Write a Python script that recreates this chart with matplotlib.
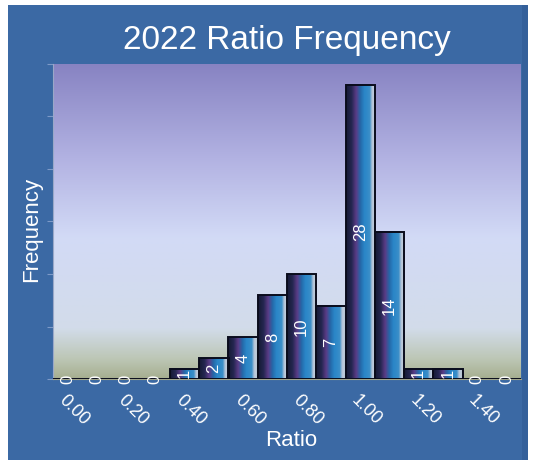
import numpy as np
import matplotlib
matplotlib.use('Agg')
import matplotlib.pyplot as plt
import matplotlib.transforms as mtransforms
from matplotlib.colors import LinearSegmentedColormap
from matplotlib.patches import Rectangle

plt.rcParams['font.family'] = ['Liberation Sans', 'DejaVu Sans']

# ratio bins (0.10 wide) and their counts
bin_starts = [0.00, 0.10, 0.20, 0.30, 0.40, 0.50, 0.60, 0.70,
              0.80, 0.90, 1.00, 1.10, 1.20, 1.30, 1.40, 1.50]
counts = [0, 0, 0, 0, 1, 2, 4, 8, 10, 7, 28, 14, 1, 1, 0, 0]
tick_labels = ['0.00', '0.20', '0.40', '0.60', '0.80', '1.00', '1.20', '1.40']

frame_blue = '#3b69a4'
bar_w = 0.1

fig = plt.figure(figsize=(5.39, 4.63), dpi=100)
fig.patch.set_facecolor('white')
fig.patches.append(Rectangle((8 / 539, 3 / 463), 520 / 539, 455 / 463,
                             transform=fig.transFigure, facecolor=frame_blue,
                             edgecolor='none', zorder=-5))
# slightly darker strip down the right side of the frame
fig.patches.append(Rectangle((522 / 539, 3 / 463), 6 / 539, 455 / 463,
                             transform=fig.transFigure, facecolor='#34609a',
                             edgecolor='none', zorder=-4))

ax = fig.add_axes([53 / 539, 84 / 463, 468 / 539, 315 / 463])
ax.set_zorder(1)

# plot area background: purple at the top, pale blue middle, olive at the base
bg_cmap = LinearSegmentedColormap.from_list('bg', [
    (0.0, '#a6ae90'), (0.06, '#bcc6b4'), (0.16, '#d2dcea'),
    (0.45, '#d2daf6'), (0.70, '#b2b2e2'), (1.0, '#8783c2')])
grad = np.linspace(0, 1, 256).reshape(-1, 1)
ax.imshow(grad, extent=(0, 1, 0, 1), transform=ax.transAxes, cmap=bg_cmap,
          origin='lower', aspect='auto', zorder=0)

# cylinder-like shading across each bar
bar_cmap = LinearSegmentedColormap.from_list('bar', [
    (0.0, '#161a34'), (0.18, '#242650'), (0.34, '#5a3c86'),
    (0.48, '#2468a8'), (0.62, '#2a86c8'), (0.80, '#3a8ec8'),
    (0.88, '#b4c4d8'), (0.96, '#c4d0dc'), (1.0, '#7888a0')])
shade = np.linspace(0, 1, 64).reshape(1, -1)
for x, c in zip(bin_starts, counts):
    if c > 0:
        ax.imshow(shade, extent=(x - bar_w / 2, x + bar_w / 2, 0, c),
                  cmap=bar_cmap, aspect='auto', zorder=2)
ax.bar(bin_starts, counts, width=bar_w, fill=False, edgecolor='#0a0c1c',
       linewidth=1.4, zorder=3)
ax.set_xlim(bin_starts[0] - bar_w / 2, bin_starts[-1] + bar_w / 2)
ax.set_ylim(0, 30)

for x, c in zip(bin_starts, counts):
    ax.text(x, c / 2, str(c), rotation=90, ha='center', va='center',
            color='white', fontsize=12, zorder=4, clip_on=False)

ax.set_xticks(bin_starts[::2])
ax.set_xticklabels(tick_labels, rotation=-45, ha='left', va='top',
                   rotation_mode='anchor', color='white', fontsize=13)
# nudge the slanted labels a little to the right
nudge = mtransforms.ScaledTranslation(3 / 100, 0, fig.dpi_scale_trans)
for lbl in ax.get_xticklabels():
    lbl.set_transform(lbl.get_transform() + nudge)
ax.set_yticks(range(0, 31, 5))
ax.set_yticklabels([])
ax.tick_params(axis='x', length=0, pad=9)
ax.tick_params(axis='y', length=4, direction='out', color='#7d9ac8')
for side in ['top', 'right']:
    ax.spines[side].set_visible(False)
ax.spines['left'].set_color('#9aa8c8')
ax.spines['bottom'].set_color('#a0a48c')

ax.set_xlabel('Ratio', color='white', fontsize=16)
ax.xaxis.set_label_coords(0.508, -0.163)
ax.set_ylabel('Frequency', color='white', fontsize=16)
ax.yaxis.set_label_coords(-0.024, 0.476)
fig.text(287 / 539, 1 - 40 / 463, '2022 Ratio Frequency', ha='center',
         va='center', color='white', fontsize=24)

fig.savefig('out.png', dpi=100, facecolor=fig.get_facecolor())
